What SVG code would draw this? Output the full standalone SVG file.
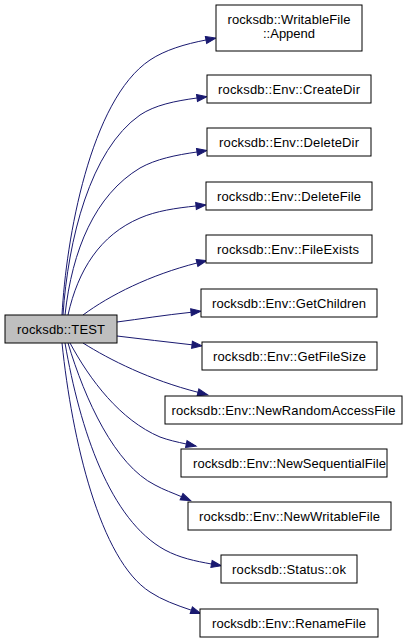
<svg xmlns="http://www.w3.org/2000/svg" width="419" height="643" viewBox="0 0 419 643">
<style>
.n rect{fill:#ffffff;stroke:#000000;stroke-width:1}
.n.root rect{fill:#bfbfbf}
.n text{font-family:"Liberation Sans",Arial,sans-serif;font-size:13px;fill:#000000;text-anchor:middle}
.e path{fill:none;stroke:#191970;stroke-width:1;marker-end:url(#ah)}
</style>
<defs>
<marker id="ah" markerUnits="userSpaceOnUse" markerWidth="11" markerHeight="8" refX="0" refY="3.5" orient="auto" overflow="visible">
<path d="M0,0 L10,3.5 L0,7 z" fill="#191970" stroke="#191970" stroke-width="1"/>
</marker>
</defs>
<rect width="419" height="643" fill="#ffffff"/>
<g id="edges" class="e">
<path d="M62,315 C66,240 90,100 150,60 C165,50 185,44 206,40"/>
<path d="M63,315 C68,240 90,150 140,115 C155,105 175,101 197,98"/>
<path d="M65,315 C72,250 95,195 140,168 C156,159 176,155 197,152"/>
<path d="M68,315 C78,270 100,235 140,218 C156,211 176,208 196,206"/>
<path d="M83,315 C110,295 150,275 197,263"/>
<path d="M117,322 C140,319 165,315 191,312.3"/>
<path d="M117,336 C142,339 167,342 192,344.8"/>
<path d="M83,343 C110,360 150,380 198,392.3"/>
<path d="M70,343 C90,380 120,420 160,437 C168,440 177,442 186.3,444"/>
<path d="M68,343 C85,400 115,465 155,485 C164,490 173,493 181.5,496.7"/>
<path d="M65,343 C80,430 110,520 165,550 C180,558 195,561 211.5,564"/>
<path d="M62,343 C72,440 100,560 150,592 C162,600 176,605 191.3,610.2"/>
</g>
<g id="node-test" class="n root"><rect x="5" y="315" width="112" height="28"/><text x="61" y="333.5" textLength="88" lengthAdjust="spacing">rocksdb::TEST</text></g>
<g id="node-append" class="n"><rect x="216" y="5" width="146" height="46"/><text x="289" y="24" textLength="123" lengthAdjust="spacing">rocksdb::WritableFile</text><text x="289" y="38" textLength="52" lengthAdjust="spacing">::Append</text></g>
<g id="node-createdir" class="n"><rect x="207" y="75" width="164" height="28"/><text x="289" y="93.5" textLength="142" lengthAdjust="spacing">rocksdb::Env::CreateDir</text></g>
<g id="node-deletedir" class="n"><rect x="207" y="128" width="164" height="28"/><text x="289" y="146.5" textLength="140" lengthAdjust="spacing">rocksdb::Env::DeleteDir</text></g>
<g id="node-deletefile" class="n"><rect x="206" y="182" width="166" height="28"/><text x="289" y="200.5" textLength="144" lengthAdjust="spacing">rocksdb::Env::DeleteFile</text></g>
<g id="node-fileexists" class="n"><rect x="206" y="235" width="166" height="28"/><text x="288" y="253.5" textLength="142" lengthAdjust="spacing">rocksdb::Env::FileExists</text></g>
<g id="node-getchildren" class="n"><rect x="201" y="289" width="176" height="28"/><text x="289" y="307.5" textLength="154" lengthAdjust="spacing">rocksdb::Env::GetChildren</text></g>
<g id="node-getfilesize" class="n"><rect x="202" y="342" width="175" height="28"/><text x="289.5" y="360.5" textLength="153" lengthAdjust="spacing">rocksdb::Env::GetFileSize</text></g>
<g id="node-newrandomaccessfile" class="n"><rect x="165" y="396" width="237" height="28"/><text x="283.5" y="414.5" textLength="224" lengthAdjust="spacing">rocksdb::Env::NewRandomAccessFile</text></g>
<g id="node-newsequentialfile" class="n"><rect x="181" y="449" width="206" height="28"/><text x="289.5" y="467.5" textLength="193" lengthAdjust="spacing">rocksdb::Env::NewSequentialFile</text></g>
<g id="node-newwritablefile" class="n"><rect x="188" y="502" width="203" height="28"/><text x="289.5" y="520.5" textLength="181" lengthAdjust="spacing">rocksdb::Env::NewWritableFile</text></g>
<g id="node-status-ok" class="n"><rect x="221" y="555" width="136" height="28"/><text x="289" y="573.5" textLength="114" lengthAdjust="spacing">rocksdb::Status::ok</text></g>
<g id="node-renamefile" class="n"><rect x="200" y="609" width="178" height="28"/><text x="289" y="627.5" textLength="154" lengthAdjust="spacing">rocksdb::Env::RenameFile</text></g>
</svg>
